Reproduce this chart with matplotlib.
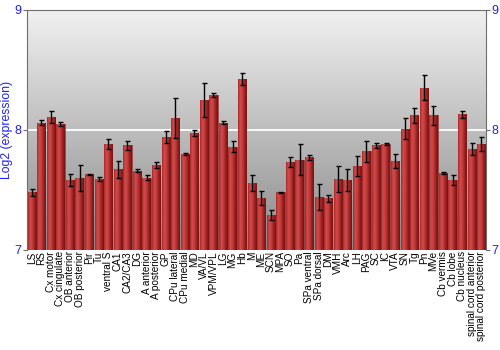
import matplotlib.pyplot as plt
import numpy as np
from matplotlib.colors import LinearSegmentedColormap

### Data
regions = [
    "LS", "RS", "Cx motor", "Cx cingulate", "OB anterior", "OB posterior",
    "Pir", "Tu", "ventral S", "CA1", "CA2/CA3", "DG", "A anterior",
    "A posterior", "GP", "CPu lateral", "CPu medial", "MD", "VA/VL",
    "VPM/VPL", "LG", "MG", "Hb", "M", "ME", "SCN", "MPA", "SO", "Pa",
    "SPa ventral", "SPa dorsal", "DM", "VMH", "Arc", "LH", "PAG", "SC", "IC",
    "VTA", "SN", "Tg", "Pn", "MVe", "Cb vermis", "Cb lobe", "Cb nucleus",
    "spinal cord anterior", "spinal cord posterior",
]
expression = [
    7.48, 8.06, 8.11, 8.05, 7.58, 7.60, 7.63, 7.59, 7.88, 7.67, 7.87, 7.66,
    7.60, 7.71, 7.94, 8.10, 7.80, 7.97, 8.25, 8.29, 8.06, 7.86, 8.42, 7.56,
    7.43, 7.29, 7.48, 7.73, 7.75, 7.77, 7.44, 7.43, 7.59, 7.58, 7.70, 7.82,
    7.87, 7.88, 7.74, 8.01, 8.12, 8.35, 8.12, 7.64, 7.58, 8.13, 7.84, 7.88,
]
errors = [
    0.03, 0.02, 0.05, 0.015, 0.05, 0.11, 0.005, 0.02, 0.04, 0.07, 0.04, 0.015,
    0.02, 0.025, 0.05, 0.165, 0.01, 0.025, 0.14, 0.02, 0.015, 0.047, 0.05,
    0.066, 0.06, 0.04, 0.005, 0.04, 0.13, 0.02, 0.11, 0.03, 0.11, 0.09, 0.085,
    0.09, 0.02, 0.01, 0.06, 0.085, 0.06, 0.105, 0.08, 0.01, 0.04, 0.03, 0.05,
    0.06,
]
y_ticks = [7, 8, 9]

### Style
blue = "#1f1fff"
spine_color = "#6e6e6e"
plt.rcParams["font.family"] = ["Liberation Sans", "DejaVu Sans"]

bar_cmap = LinearSegmentedColormap.from_list(
    "bar", ["#a82a2a", "#d24c4c", "#c43c3c", "#9a2222", "#741414"]
)
bg_cmap = LinearSegmentedColormap.from_list("bg", ["#8a8a8a", "#f1f1f1"])

fig = plt.figure(figsize=(5, 3.5), dpi=100)
ax = fig.add_axes([0.054, 0.286, 0.918, 0.686])

x = np.arange(len(regions))
xlim = (-0.5, len(regions) - 0.5)
ylim = (7, 9)

# background gradient
bg = np.linspace(0, 1, 256).reshape(-1, 1)
ax.imshow(bg, extent=[xlim[0], xlim[1], ylim[0], ylim[1]], origin="lower",
          aspect="auto", cmap=bg_cmap, zorder=0)
ax.axhline(8, color="white", lw=1.3, zorder=1)

# bars with horizontal shading
bars = ax.bar(x, np.array(expression) - ylim[0], bottom=ylim[0], width=0.86,
              color="#b83434", edgecolor="#8c2a2a", linewidth=0.4, zorder=2)
shade = np.linspace(0, 1, 64).reshape(1, -1)
for b in bars:
    x0 = b.get_x()
    im = ax.imshow(shade, extent=[x0, x0 + b.get_width(), ylim[0], b.get_y() + b.get_height()],
                   aspect="auto", cmap=bar_cmap, zorder=2.5)
    im.set_clip_path(b)

ax.errorbar(x, expression, yerr=errors, fmt="none", ecolor="black",
            elinewidth=1, capsize=1.8, capthick=1, zorder=3)

ax.set_xlim(xlim)
ax.set_ylim(ylim)
ax.set_xticks(x)
ax.set_xticklabels(regions, rotation=90, fontsize=7.2)
ax.tick_params(axis="x", length=0, pad=1)
ax.set_yticks(y_ticks)
ax.tick_params(axis="y", colors=spine_color, labelcolor=blue, labelsize=9,
               length=3, pad=1, right=True, labelright=True)
ax.set_ylabel("Log2 (expression)", color=blue, fontsize=8.8, labelpad=1)

for side in ["top", "left", "right"]:
    ax.spines[side].set_color(spine_color)
ax.spines["bottom"].set_visible(False)

plt.savefig("out.png", dpi=100)
